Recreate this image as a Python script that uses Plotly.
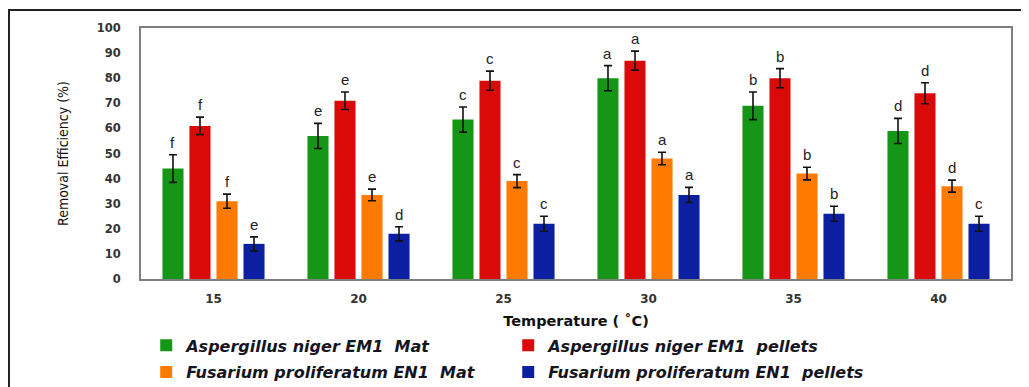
import plotly.graph_objects as go

temperatures = ["15", "20", "25", "30", "35", "40"]

series_names = [
    "Aspergillus niger EM1  Mat",
    "Aspergillus niger EM1  pellets",
    "Fusarium proliferatum EN1  Mat",
    "Fusarium proliferatum EN1  pellets",
]
asp_mat = [44, 57, 63.5, 80, 69, 59]
asp_mat_err = [5.5, 5, 5, 5, 5.5, 5]
asp_pel = [61, 71, 79, 87, 80, 74]
asp_pel_err = [3.5, 3.5, 3.8, 3.8, 3.8, 4.2]
fus_mat = [31, 33.5, 39, 48, 42, 37]
fus_mat_err = [2.8, 2.3, 2.6, 2.5, 2.5, 2.4]
fus_pel = [14, 18, 22, 33.5, 26, 22]
fus_pel_err = [2.8, 2.8, 3, 3, 3, 3]

asp_mat_letters = ["f", "e", "c", "a", "b", "d"]
asp_pel_letters = ["f", "e", "c", "a", "b", "d"]
fus_mat_letters = ["f", "e", "c", "a", "b", "d"]
fus_pel_letters = ["e", "d", "c", "a", "b", "c"]

y_ticks = [0, 10, 20, 30, 40, 50, 60, 70, 80, 90, 100]

colors = ["#169616", "#DA0A0A", "#FF7A00", "#0B1FA0"]
legend_ids = ["legend", "legend", "legend2", "legend2"]

values = [asp_mat, asp_pel, fus_mat, fus_pel]
errors = [asp_mat_err, asp_pel_err, fus_mat_err, fus_pel_err]
letters = [asp_mat_letters, asp_pel_letters, fus_mat_letters, fus_pel_letters]

fig = go.Figure()
for i in range(4):
    fig.add_trace(go.Bar(
        x=temperatures,
        y=values[i],
        name=series_names[i],
        marker=dict(color=colors[i], line=dict(width=0)),
        error_y=dict(type="data", array=errors[i], color="#111111",
                     thickness=1.6, width=4),
        legend=legend_ids[i],
        offsetgroup=str(i),
    ))

# letter annotations above error bars, at each bar's group offset
ann = []
n = 4
bargap = 0.255
slot_frac = (1 - bargap) / n
for i in range(n):
    off = (i - (n - 1) / 2) * slot_frac
    for j, t in enumerate(temperatures):
        ann.append(dict(
            x=j + off, y=values[i][j] + errors[i][j],
            xref="x", yref="y", text=letters[i][j], showarrow=False,
            yanchor="bottom", yshift=2,
            font=dict(family="Liberation Sans, Arial", size=15, color="#222222"),
        ))

legend_font = dict(family="DejaVu Sans", size=16, color="#15151f",
                   weight="bold", style="italic")

L, R, T, B = 133, 26, 20, 116
W, H = 1029, 387
pw, ph = W - L - R, H - T - B

fig.update_layout(
    width=W, height=H,
    margin=dict(l=L, r=R, t=T, b=B, autoexpand=False),
    paper_bgcolor="white", plot_bgcolor="white",
    barmode="group", bargap=bargap, bargroupgap=0.22,
    xaxis=dict(
        type="category",
        showline=True, mirror=True, linecolor="#7f7f7f", linewidth=2,
        ticks="", showgrid=False,
        tickfont=dict(family="DejaVu Sans", size=12, color="#333333", weight="bold"),
        ticklabelstandoff=8,
        title=dict(text="Temperature ( ˚C)", standoff=10,
                   font=dict(family="DejaVu Sans", size=14.5, color="#111111", weight="bold")),
    ),
    yaxis=dict(
        range=[0, 100], tickvals=y_ticks,
        showline=True, mirror=True, linecolor="#7f7f7f", linewidth=2,
        ticks="", showgrid=False, zeroline=False,
        tickfont=dict(family="DejaVu Sans", size=11.5, color="#333333", weight="bold"),
        ticklabelstandoff=16,
        title=dict(text="Removal Efficiency (%)", standoff=25,
                   font=dict(family="Liberation Sans Narrow, DejaVu Sans Condensed, Arial",
                             size=14, color="#111111")),
    ),
    legend=dict(orientation="h", x=0.006, xanchor="left", y=-0.197, yanchor="top",
                font=legend_font, entrywidth=317, entrywidthmode="pixels",
                bgcolor="rgba(0,0,0,0)", itemclick=False),
    legend2=dict(orientation="h", x=0.006, xanchor="left", y=-0.303, yanchor="top",
                 font=legend_font, entrywidth=317, entrywidthmode="pixels",
                 bgcolor="rgba(0,0,0,0)", itemclick=False),
    annotations=ann,
    shapes=[dict(type="rect", xref="paper", yref="paper",
                 x0=(1 - L) / pw, x1=(W + 40 - L) / pw,
                 y0=-(H + 40 - (T + ph)) / ph, y1=(T + ph - 2) / ph,
                 line=dict(color="#222222", width=2), layer="below")],
    showlegend=True,
)

fig.write_html("out.html")
